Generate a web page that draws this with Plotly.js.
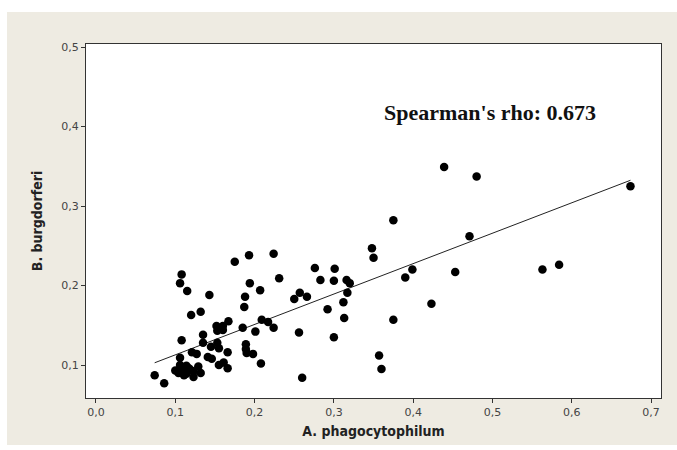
<!DOCTYPE html>
<html>
<head>
<meta charset="utf-8">
<script src="https://cdn.plot.ly/plotly-3.0.1.min.js"></script>
<style>
  html, body { margin: 0; padding: 0; background: #ffffff; }
  #chart { position: absolute; left: 7px; top: 12px; width: 670px; height: 433px; }
</style>
</head>
<body>
<div id="chart"></div>
<script>
// A. phagocytophilum (x) and B. burgdorferi (y) values
const aPhago = [
  0.074, 0.086, 0.108, 0.106, 0.115, 0.120, 0.132, 0.143, 0.175, 0.193,
  0.224, 0.231, 0.194, 0.207, 0.188, 0.187, 0.167, 0.152, 0.160, 0.153,
  0.160, 0.135, 0.135, 0.145, 0.153, 0.155, 0.108, 0.121, 0.127, 0.166,
  0.141, 0.146, 0.106, 0.185, 0.201, 0.209, 0.217, 0.224, 0.189, 0.189,
  0.190, 0.198, 0.208, 0.155, 0.161, 0.166, 0.260, 0.250, 0.257, 0.266,
  0.276, 0.283, 0.301, 0.300, 0.316, 0.320, 0.317, 0.312, 0.292, 0.313,
  0.256, 0.300, 0.348, 0.350, 0.375, 0.390, 0.399, 0.375, 0.357, 0.360,
  0.423, 0.439, 0.453, 0.471, 0.480, 0.563, 0.584, 0.674,
  0.100, 0.106, 0.110, 0.114, 0.119, 0.109, 0.114, 0.123, 0.129, 0.132,
  0.123, 0.111, 0.117, 0.104
];
const bBurg = [
  0.087, 0.077, 0.214, 0.203, 0.193, 0.163, 0.167, 0.188, 0.230, 0.238,
  0.240, 0.209, 0.203, 0.194, 0.186, 0.173, 0.155, 0.149, 0.149, 0.143,
  0.144, 0.138, 0.128, 0.123, 0.128, 0.121, 0.131, 0.116, 0.114, 0.116,
  0.110, 0.108, 0.109, 0.147, 0.142, 0.157, 0.154, 0.147, 0.126, 0.120,
  0.115, 0.114, 0.102, 0.100, 0.103, 0.096, 0.084, 0.183, 0.191, 0.186,
  0.222, 0.207, 0.221, 0.206, 0.207, 0.203, 0.191, 0.179, 0.170, 0.159,
  0.141, 0.135, 0.247, 0.235, 0.282, 0.210, 0.220, 0.157, 0.112, 0.095,
  0.177, 0.349, 0.217, 0.262, 0.337, 0.220, 0.226, 0.325,
  0.093, 0.100, 0.096, 0.099, 0.094, 0.090, 0.089, 0.085, 0.098, 0.090,
  0.092, 0.087, 0.096, 0.090
];

// fitted regression line
const fitIntercept = 0.0745;
const fitSlope = 0.3826;

const xTicks = [0.0, 0.1, 0.2, 0.3, 0.4, 0.5, 0.6, 0.7];
const yTicks = [0.1, 0.2, 0.3, 0.4, 0.5];
const annotationText = "Spearman's rho: 0.673";

const xMin = Math.min(...aPhago), xMax = Math.max(...aPhago);
const lineX = [xMin, xMax];
const lineY = lineX.map(v => fitIntercept + fitSlope * v);

const tickFont = { family: 'DejaVu Sans, Verdana, sans-serif', size: 11, color: '#444444' };
const titleFont = { family: 'DejaVu Sans Condensed, DejaVu Sans, sans-serif', size: 14, color: '#222222', weight: 'bold' };

const data = [
  {
    x: lineX, y: lineY, type: 'scatter', mode: 'lines',
    line: { color: '#222222', width: 1 }, hoverinfo: 'skip'
  },
  {
    x: aPhago, y: bBurg, type: 'scatter', mode: 'markers',
    marker: { color: '#000000', size: 8.5, symbol: 'circle' }
  }
];

const layout = {
  width: 670, height: 433,
  paper_bgcolor: '#EEEBE2',
  plot_bgcolor: '#FFFFFF',
  margin: { l: 79, r: 16, t: 32, b: 47 },
  showlegend: false,
  separators: ',.',
  xaxis: {
    range: [-0.0126, 0.7125],
    tickvals: xTicks, tickformat: '.1f',
    ticks: 'outside', ticklen: 4, tickcolor: '#333333', tickwidth: 1,
    showgrid: false, zeroline: false,
    showline: true, linecolor: '#333333', linewidth: 1, mirror: true,
    tickfont: tickFont,
    title: { text: 'A. phagocytophilum', font: titleFont, standoff: 7 }
  },
  yaxis: {
    range: [0.0585, 0.5038],
    tickvals: yTicks, tickformat: '.1f',
    ticks: 'outside', ticklen: 4, tickcolor: '#333333', tickwidth: 1,
    showgrid: false, zeroline: false,
    showline: true, linecolor: '#333333', linewidth: 1, mirror: true,
    tickfont: tickFont,
    title: { text: 'B. burgdorferi', font: titleFont, standoff: 15 }
  },
  annotations: [{
    x: 0.497, y: 0.418, xref: 'x', yref: 'y',
    text: annotationText, showarrow: false,
    font: { family: 'Liberation Serif, Times New Roman, serif', size: 22, color: '#111111', weight: 'bold' }
  }]
};

Plotly.newPlot('chart', data, layout, { displayModeBar: false, staticPlot: true });
</script>
</body>
</html>
